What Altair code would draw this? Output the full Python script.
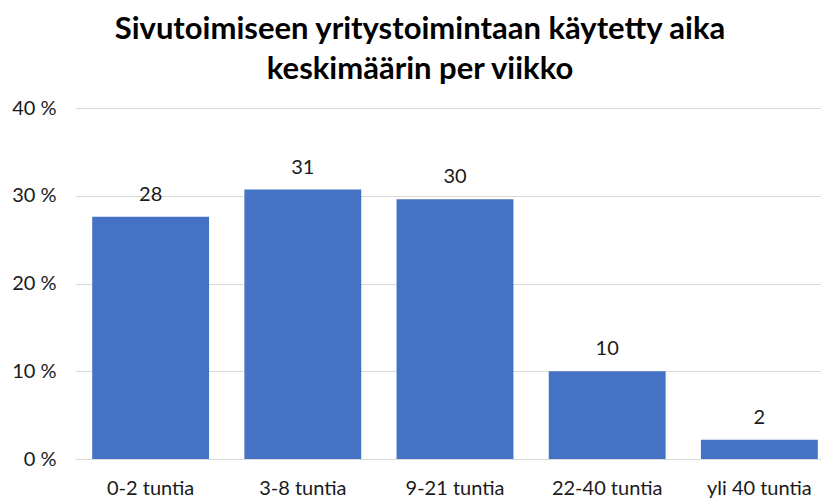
import altair as alt
import pandas as pd

categories = ["0-2 tuntia", "3-8 tuntia", "9-21 tuntia", "22-40 tuntia", "yli 40 tuntia"]
values = [27.6, 30.7, 29.6, 10.0, 2.2]
y_ticks = [0, 10, 20, 30, 40]

df = pd.DataFrame({"cat": categories, "val": values})

FONT = "Lato"
TXT = "#1a1a1a"

base = alt.Chart(df).encode(
    x=alt.X("cat:N", sort=categories, title=None,
            scale=alt.Scale(paddingInner=0.232, paddingOuter=0.113, range=[0, 760]),
            axis=alt.Axis(labelAngle=0, labelFontSize=20, labelColor=TXT,
                          labelFont=FONT, labelPadding=19, ticks=False,
                          domainColor="#d9d9d9", domainWidth=1.2)),
    y=alt.Y("val:Q", title=None,
            scale=alt.Scale(domain=[0, 40], nice=False),
            axis=alt.Axis(values=y_ticks, labelExpr="datum.value + ' %'",
                          labelFontSize=20, labelColor=TXT, labelFont=FONT,
                          labelPadding=19, ticks=False, domain=False,
                          gridColor="#d9d9d9", gridWidth=1.2)),
)

bars = base.mark_bar(color="#4472c4")
labels = base.mark_text(baseline="alphabetic", dy=-16, fontSize=20, font=FONT,
                        color=TXT).encode(text=alt.Text("val:Q", format=".0f"))

chart = (bars + labels).properties(
    width=746, height=351,
    padding={"left": 67, "top": 100, "right": 0, "bottom": 40},
    autosize=alt.AutoSizeParams(type="none"),
    title=alt.Title(["Sivutoimiseen yritystoimintaan käytetty aika", "keskimäärin per viikko"],
                    fontSize=31, font=FONT, fontWeight="bold", color="#000000",
                    anchor="middle", lineHeight=40, offset=12, dx=-28),
).configure_view(stroke=None)

chart.save("out.html", embed_options={"renderer": "svg", "actions": False})
